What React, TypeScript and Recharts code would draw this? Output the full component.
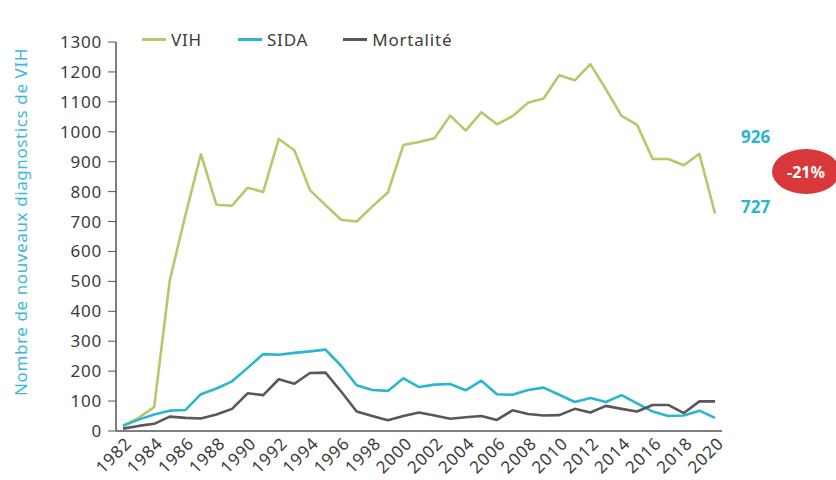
import { LineChart, Line, XAxis, YAxis, Legend } from "recharts";

const years = [
  1982, 1983, 1984, 1985, 1986, 1987, 1988, 1989, 1990, 1991, 1992, 1993, 1994,
  1995, 1996, 1997, 1998, 1999, 2000, 2001, 2002, 2003, 2004, 2005, 2006, 2007,
  2008, 2009, 2010, 2011, 2012, 2013, 2014, 2015, 2016, 2017, 2018, 2019, 2020,
];

const vih = [
  18, 44, 80, 503, 720, 925, 756, 753, 813, 799, 976, 938, 805, 755, 706, 700,
  750, 797, 956, 966, 978, 1054, 1004, 1065, 1025, 1052, 1097, 1111, 1189, 1172,
  1226, 1142, 1053, 1023, 909, 909, 888, 926, 727,
];

const sida = [
  17, 38, 55, 68, 70, 123, 142, 166, 211, 257, 255, 261, 266, 272, 218, 153, 137,
  134, 176, 147, 155, 157, 136, 168, 123, 121, 137, 145, 121, 97, 110, 97, 120,
  92, 65, 50, 52, 68, 44,
];

const mortalite = [
  8, 17, 24, 48, 44, 42, 55, 74, 126, 120, 173, 158, 194, 195, 132, 65, 50, 36,
  50, 62, 52, 41, 46, 50, 37, 69, 57, 52, 53, 74, 62, 84, 74, 65, 87, 87, 60, 99,
  99,
];

const xTicks = [
  1982, 1984, 1986, 1988, 1990, 1992, 1994, 1996, 1998, 2000, 2002, 2004, 2006,
  2008, 2010, 2012, 2014, 2016, 2018, 2020,
];
const yTicks = [0, 100, 200, 300, 400, 500, 600, 700, 800, 900, 1000, 1100, 1200, 1300];

const series = [
  { key: "vih", name: "VIH", color: "#b5c96a" },
  { key: "sida", name: "SIDA", color: "#2bb5cf" },
  { key: "mortalite", name: "Mortalité", color: "#58585c" },
];

const data = years.map((year, i) => ({
  year,
  vih: vih[i],
  sida: sida[i],
  mortalite: mortalite[i],
}));

const font = "'Noto Sans', sans-serif";

function XTick(props: any) {
  const { x, y, payload } = props;
  return (
    <g transform={`translate(${x + 4},${y})`}>
      <text
        x={0}
        y={0}
        dy={8}
        textAnchor="end"
        transform="rotate(-45)"
        fill="#3c3c3c"
        fontSize={17}
        fontFamily={font}
        letterSpacing={0.8}
      >
        {payload.value}
      </text>
    </g>
  );
}

function LegendBox() {
  return (
    <div style={{ display: "flex", fontFamily: font, fontSize: 17, letterSpacing: 0.8, color: "#3c3c3c" }}>
      {series.map((s, i) => (
        <div key={s.key} style={{ display: "flex", alignItems: "center", marginRight: i === 0 ? 36 : 35 }}>
          <span style={{ display: "inline-block", width: 24, height: 3, background: s.color, marginRight: 5 }} />
          <span>{s.name}</span>
        </div>
      ))}
    </div>
  );
}

export default function App() {
  return (
    <div style={{ position: "relative", width: 836, height: 480, background: "#fff" }}>
      <style>{`body{margin:0}`}</style>
      <LineChart width={836} height={480} data={data} margin={{ top: 19, right: 114, bottom: 0, left: 16 }}>
        <XAxis
          dataKey="year"
          type="number"
          domain={[1982, 2020]}
          ticks={xTicks}
          interval={0}
          height={49}
          padding={{ left: 7, right: 7 }}
          axisLine={{ stroke: "#555", strokeWidth: 1.5 }}
          tickLine={false}
          tick={<XTick />}
        />
        <YAxis
          width={100}
          domain={[0, 1300]}
          ticks={yTicks}
          interval={0}
          axisLine={{ stroke: "#555", strokeWidth: 1.5 }}
          tickLine={{ stroke: "#555" }}
          tickSize={8}
          tickMargin={6}
          tick={{ fill: "#3c3c3c", fontSize: 17, fontFamily: font, letterSpacing: 0.8 }}
          label={{
            content: () => (
              <text
                x={22}
                y={222}
                transform="rotate(-90 22 222)"
                textAnchor="middle"
                dominantBaseline="middle"
                fill="#3db8d6"
                fontSize={17}
                fontFamily={font}
                letterSpacing={0.6}
              >
                Nombre de nouveaux diagnostics de VIH
              </text>
            ),
          }}
        />
        <Legend
          verticalAlign="top"
          content={() => <LegendBox />}
          wrapperStyle={{ position: "absolute", top: 28, left: 142, width: "auto" }}
        />
        {series.map((s) => (
          <Line
            key={s.key}
            dataKey={s.key}
            name={s.name}
            stroke={s.color}
            strokeWidth={2.6}
            dot={false}
            isAnimationActive={false}
            strokeLinejoin="round"
          />
        ))}
      </LineChart>
      <div style={{ position: "absolute", left: 741, top: 125, fontFamily: font, fontWeight: 700, fontSize: 17, color: "#2bb5cf" }}>
        926
      </div>
      <div style={{ position: "absolute", left: 741, top: 195, fontFamily: font, fontWeight: 700, fontSize: 17, color: "#2bb5cf" }}>
        727
      </div>
      <div
        style={{
          position: "absolute",
          left: 772,
          top: 149,
          width: 68,
          height: 45,
          borderRadius: "50%",
          background: "#d8383a",
          color: "#fff",
          fontFamily: font,
          fontWeight: 700,
          fontSize: 16,
          display: "flex",
          alignItems: "center",
          justifyContent: "center",
        }}
      >
        -21%
      </div>
    </div>
  );
}
